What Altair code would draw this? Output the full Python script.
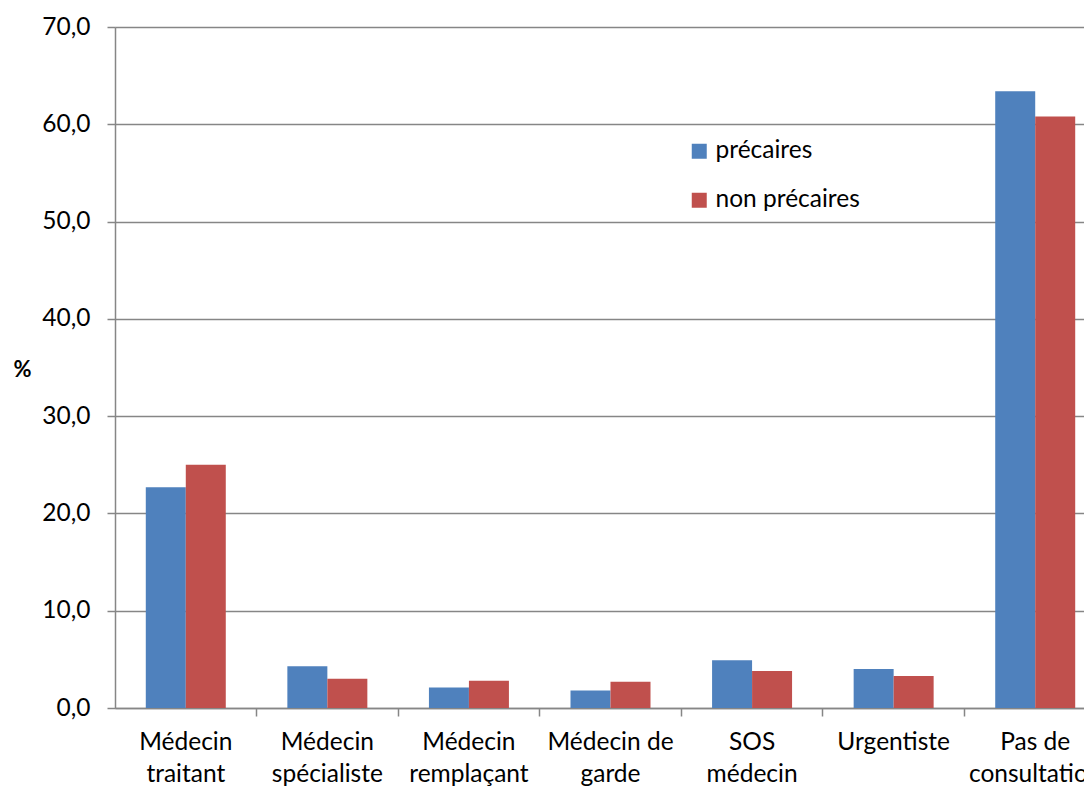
import altair as alt
import pandas as pd

categories = ["Médecin\ntraitant", "Médecin\nspécialiste", "Médecin\nremplaçant",
              "Médecin de\ngarde", "SOS\nmédecin", "Urgentiste", "Pas de\nconsultation"]
series = ["précaires", "non précaires"]
precaires = [22.7, 4.3, 2.1, 1.8, 4.9, 4.0, 63.4]
non_precaires = [25.0, 3.0, 2.8, 2.7, 3.8, 3.3, 60.8]
colors = ["#4F81BD", "#C0504D"]
y_ticks = [0, 10, 20, 30, 40, 50, 60, 70]

rows = []
for c, a, b in zip(categories, precaires, non_precaires):
    rows.append({"cat": c, "serie": series[0], "val": a})
    rows.append({"cat": c, "serie": series[1], "val": b})
df = pd.DataFrame(rows)

FONT = "Lato"
GRAY = "#868686"
FS = 24.5

chart = alt.Chart(df).mark_bar().encode(
    x=alt.X("cat:N", sort=categories,
            scale=alt.Scale(paddingInner=0.435, paddingOuter=0.2175),
            axis=alt.Axis(title=None, labelAngle=0, bandPosition=1.385,
                          labelExpr="split(datum.label, '\\n')",
                          labelFont=FONT, labelFontSize=FS, labelColor="#000000",
                          labelLineHeight=32, labelPadding=14,
                          tickSize=8, tickColor=GRAY, tickWidth=1.5,
                          domainColor=GRAY, domainWidth=1.5, grid=False)),
    xOffset=alt.XOffset("serie:N", sort=series),
    y=alt.Y("val:Q", scale=alt.Scale(domain=[0, 70], nice=False),
            axis=alt.Axis(title="%", titleAngle=0, titleFont=FONT, titleFontSize=22,
                          titleFontWeight="bold", titleX=-93, titleY=342,
                          titleAlign="center", titleBaseline="middle",
                          values=y_ticks,
                          labelExpr="replace(format(datum.value, '.1f'), '.', ',')",
                          labelFont=FONT, labelFontSize=FS, labelColor="#000000",
                          labelPadding=17, tickSize=8, tickColor=GRAY, tickWidth=1.5,
                          domainColor=GRAY, domainWidth=1.5,
                          grid=True, gridColor=GRAY, gridWidth=1.5)),
    color=alt.Color("serie:N", sort=series,
                    scale=alt.Scale(domain=series, range=colors),
                    legend=alt.Legend(title=None, orient="none", legendX=572, legendY=112,
                                      symbolType="square", symbolSize=225,
                                      symbolStrokeWidth=0, labelFont=FONT,
                                      labelFontSize=FS, labelColor="#000000",
                                      labelOffset=4, rowPadding=24, padding=0)),
).properties(
    width=991, height=681,
    autosize=alt.AutoSizeParams(type="none"),
    padding={"left": 107, "top": 19, "right": -22, "bottom": 80},
).configure_view(strokeWidth=0).configure(background="#ffffff")

chart.save("out.html", embed_options={"renderer": "svg", "actions": False})
